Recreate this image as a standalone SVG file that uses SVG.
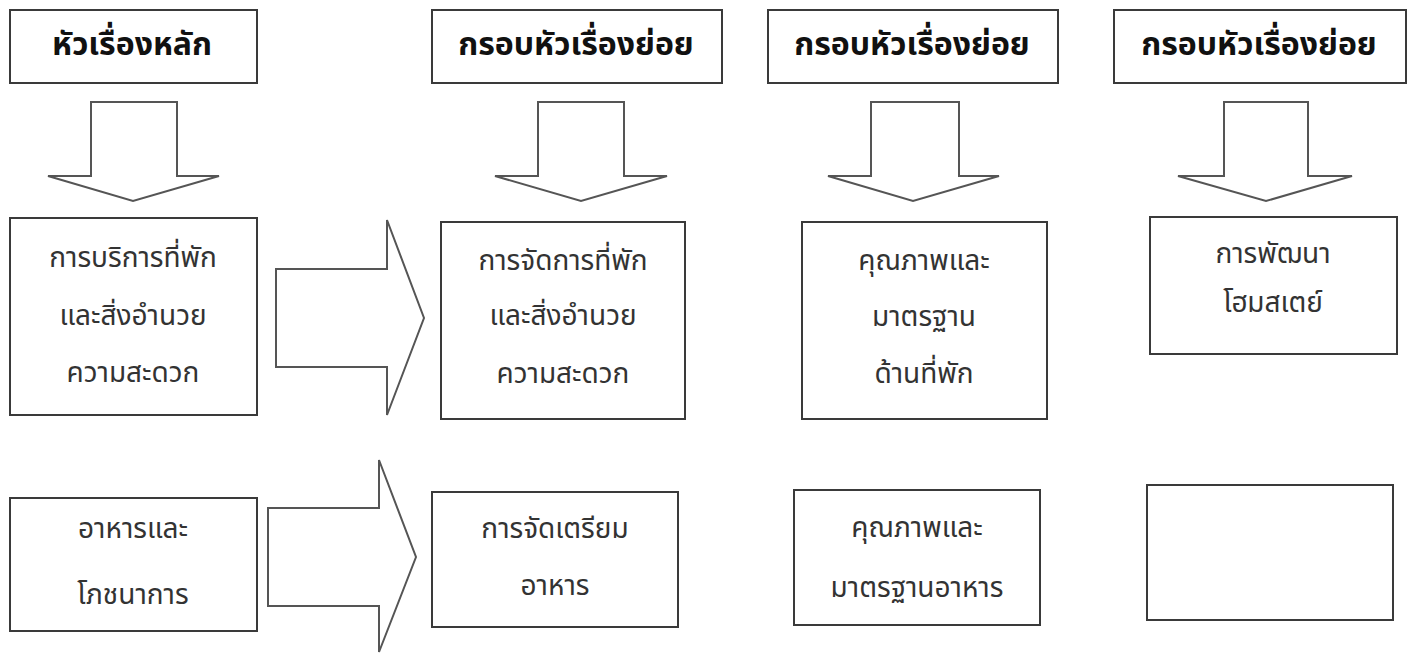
<svg xmlns="http://www.w3.org/2000/svg" width="1413" height="654" viewBox="0 0 1413 654">
<style>
.box{fill:#fff;stroke:#3a3a3a;stroke-width:2}
.arr{fill:#fff;stroke:#555;stroke-width:2;stroke-linejoin:miter}
.h{font-family:"Noto Sans Thai","Noto Sans","DejaVu Sans",sans-serif;font-size:32px;font-weight:bold;fill:#111;text-anchor:middle}
.t{font-family:"Noto Sans Thai","Noto Sans","DejaVu Sans",sans-serif;font-size:28px;fill:#333;text-anchor:middle}
</style>
<rect width="1413" height="654" fill="#fff"/>
<g id="connectors">
<polygon class="arr" points="91,102 177,102 177,176 219,176 133,201 48,176 91,176"/>
<polygon class="arr" points="538,102 624,102 624,176 667,176 581,201 495,176 538,176"/>
<polygon class="arr" points="871,102 959,102 959,176 999,176 913,201 828,176 871,176"/>
<polygon class="arr" points="1224,102 1308,102 1308,176 1352,176 1266,201 1178,176 1224,176"/>
<polygon class="arr" points="276,269 387,269 387,220 424,318 387,415 387,367 276,367"/>
<polygon class="arr" points="268,508 379,508 379,460 416,557 379,652 379,606 268,606"/>
</g>
<g id="main-topic-header"><rect class="box" x="10" y="10" width="247" height="73"/><text class="h" x="132" y="55">หัวเรื่องหลัก</text></g>
<g id="subtopic-header-1"><rect class="box" x="432" y="10" width="290" height="73"/><text class="h" x="576" y="55">กรอบหัวเรื่องย่อย</text></g>
<g id="subtopic-header-2"><rect class="box" x="768" y="10" width="290" height="73"/><text class="h" x="912" y="55">กรอบหัวเรื่องย่อย</text></g>
<g id="subtopic-header-3"><rect class="box" x="1114" y="10" width="292" height="73"/><text class="h" x="1259" y="55">กรอบหัวเรื่องย่อย</text></g>
<g id="accommodation"><rect class="box" x="10" y="218" width="247" height="197"/><text class="t" x="133" y="267">การบริการที่พัก</text><text class="t" x="133" y="325">และสิ่งอำนวย</text><text class="t" x="133" y="382">ความสะดวก</text></g>
<g id="accommodation-management"><rect class="box" x="441" y="222" width="244" height="197"/><text class="t" x="563" y="270">การจัดการที่พัก</text><text class="t" x="563" y="325">และสิ่งอำนวย</text><text class="t" x="563" y="383">ความสะดวก</text></g>
<g id="accommodation-quality"><rect class="box" x="802" y="222" width="245" height="197"/><text class="t" x="924" y="270">คุณภาพและ</text><text class="t" x="924" y="326">มาตรฐาน</text><text class="t" x="924" y="383">ด้านที่พัก</text></g>
<g id="homestay-development"><rect class="box" x="1150" y="217" width="247" height="137"/><text class="t" x="1273" y="263">การพัฒนา</text><text class="t" x="1273" y="312">โฮมสเตย์</text></g>
<g id="food-nutrition"><rect class="box" x="10" y="498" width="247" height="133"/><text class="t" x="133" y="538">อาหารและ</text><text class="t" x="133" y="604">โภชนาการ</text></g>
<g id="food-preparation"><rect class="box" x="432" y="492" width="246" height="135"/><text class="t" x="555" y="538">การจัดเตรียม</text><text class="t" x="555" y="595">อาหาร</text></g>
<g id="food-quality"><rect class="box" x="794" y="490" width="246" height="135"/><text class="t" x="917" y="537">คุณภาพและ</text><text class="t" x="917" y="597">มาตรฐานอาหาร</text></g>
<g id="empty-box"><rect class="box" x="1147" y="485" width="246" height="135"/></g>
</svg>
